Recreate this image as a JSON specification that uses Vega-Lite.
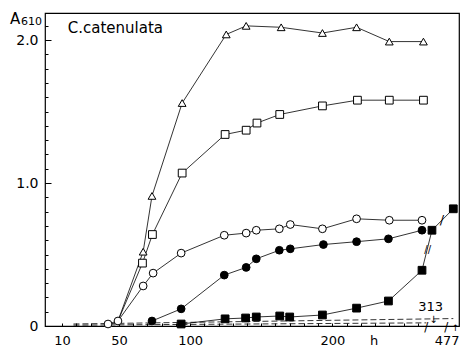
{
  "$schema": "https://vega.github.io/schema/vega-lite/v6.json",
  "width": 414,
  "height": 313,
  "autosize": {"type": "none"},
  "padding": {"left": 45, "top": 13, "right": 4, "bottom": 22},
  "config": {
    "view": {"stroke": "black", "strokeWidth": 1.2},
    "font": "DejaVu Sans",
    "axis": {"domain": false, "grid": false, "labelColor": "black", "tickColor": "black", "titleColor": "black", "labelFont": "DejaVu Sans", "titleFont": "DejaVu Sans"}
  },
  "datasets": {
    "series": [
      {"series": "tri", "h": 49.3, "a": 0.035, "m": 0},
      {"series": "tri", "h": 67, "a": 0.52, "m": 1},
      {"series": "tri", "h": 73.2, "a": 0.91, "m": 1},
      {"series": "tri", "h": 94.4, "a": 1.56, "m": 1},
      {"series": "tri", "h": 125.4, "a": 2.04, "m": 1},
      {"series": "tri", "h": 139.4, "a": 2.1, "m": 1},
      {"series": "tri", "h": 164, "a": 2.09, "m": 1},
      {"series": "tri", "h": 193, "a": 2.05, "m": 1},
      {"series": "tri", "h": 217, "a": 2.09, "m": 1},
      {"series": "tri", "h": 240, "a": 1.99, "m": 1},
      {"series": "tri", "h": 264, "a": 1.99, "m": 1},
      {"series": "sq", "h": 49.3, "a": 0.035, "m": 0},
      {"series": "sq", "h": 66.5, "a": 0.44, "m": 1},
      {"series": "sq", "h": 73.5, "a": 0.64, "m": 1},
      {"series": "sq", "h": 94.4, "a": 1.07, "m": 1},
      {"series": "sq", "h": 124.6, "a": 1.34, "m": 1},
      {"series": "sq", "h": 139.4, "a": 1.37, "m": 1},
      {"series": "sq", "h": 147, "a": 1.42, "m": 1},
      {"series": "sq", "h": 163, "a": 1.48, "m": 1},
      {"series": "sq", "h": 193, "a": 1.54, "m": 1},
      {"series": "sq", "h": 217.6, "a": 1.58, "m": 1},
      {"series": "sq", "h": 240, "a": 1.58, "m": 1},
      {"series": "sq", "h": 264, "a": 1.58, "m": 1},
      {"series": "oc", "h": 42.3, "a": 0.014, "m": 1},
      {"series": "oc", "h": 49.3, "a": 0.035, "m": 1},
      {"series": "oc", "h": 67, "a": 0.28, "m": 1},
      {"series": "oc", "h": 74, "a": 0.37, "m": 1},
      {"series": "oc", "h": 93.7, "a": 0.51, "m": 1},
      {"series": "oc", "h": 124, "a": 0.635, "m": 1},
      {"series": "oc", "h": 139.4, "a": 0.65, "m": 1},
      {"series": "oc", "h": 146.5, "a": 0.67, "m": 1},
      {"series": "oc", "h": 162.7, "a": 0.68, "m": 1},
      {"series": "oc", "h": 170.4, "a": 0.71, "m": 1},
      {"series": "oc", "h": 193, "a": 0.68, "m": 1},
      {"series": "oc", "h": 217, "a": 0.75, "m": 1},
      {"series": "oc", "h": 240, "a": 0.74, "m": 1},
      {"series": "oc", "h": 263, "a": 0.74, "m": 1},
      {"series": "fc", "h": 73.2, "a": 0.035, "m": 1},
      {"series": "fc", "h": 93.7, "a": 0.12, "m": 1},
      {"series": "fc", "h": 124, "a": 0.356, "m": 1},
      {"series": "fc", "h": 139.4, "a": 0.41, "m": 1},
      {"series": "fc", "h": 146.5, "a": 0.47, "m": 1},
      {"series": "fc", "h": 162.7, "a": 0.53, "m": 1},
      {"series": "fc", "h": 170.4, "a": 0.54, "m": 1},
      {"series": "fc", "h": 193.7, "a": 0.57, "m": 1},
      {"series": "fc", "h": 217, "a": 0.59, "m": 1},
      {"series": "fc", "h": 239.4, "a": 0.61, "m": 1},
      {"series": "fc", "h": 263, "a": 0.67, "m": 1},
      {"series": "fs", "h": 93.7, "a": 0.014, "m": 1},
      {"series": "fs", "h": 124.6, "a": 0.05, "m": 1},
      {"series": "fs", "h": 139, "a": 0.056, "m": 1},
      {"series": "fs", "h": 146.5, "a": 0.063, "m": 1},
      {"series": "fs", "h": 163, "a": 0.07, "m": 1},
      {"series": "fs", "h": 170, "a": 0.063, "m": 1},
      {"series": "fs", "h": 193, "a": 0.077, "m": 1},
      {"series": "fs", "h": 217, "a": 0.125, "m": 1},
      {"series": "fs", "h": 239.4, "a": 0.175, "m": 1},
      {"series": "fs", "h": 263, "a": 0.39, "m": 1},
      {"series": "fs", "h": 270, "a": 0.67, "m": 1},
      {"series": "fs", "h": 285, "a": 0.82, "m": 1}
    ],
    "dash": [
      {"line": "a", "h": 18, "a": 0.014},
      {"line": "a", "h": 285, "a": 0.052},
      {"line": "b", "h": 18, "a": 0.006},
      {"line": "b", "h": 266, "a": 0.022}
    ],
    "title": [
      {"h": 14, "a": 2.085, "text": "C.catenulata"}
    ],
    "notes": [
      {"h": -23, "a": 2.145, "text": "A", "size": 15},
      {"h": -11.5, "a": 2.125, "text": "610", "size": 11},
      {"h": 269, "a": 0.13, "text": "313", "size": 13},
      {"h": 271, "a": 0.045, "text": "↓", "size": 10},
      {"h": 266, "a": -0.005, "text": "/", "size": 12},
      {"h": 280, "a": -0.005, "text": "/", "size": 12},
      {"h": 286.5, "a": -0.012, "text": "↑", "size": 9},
      {"h": 267, "a": 0.53, "text": "//", "size": 10},
      {"h": 277, "a": 0.74, "text": "/", "size": 13}
    ]
  },
  "resolve": {"axis": {"x": "independent", "y": "independent"}},
  "layer": [
    {
      "data": {"name": "dash"},
      "mark": {"type": "line", "color": "black", "strokeWidth": 0.8, "strokeDash": [6, 3]},
      "encoding": {
        "x": {"field": "h", "type": "quantitative", "scale": {"domain": [-2, 289], "nice": false, "zero": false}, "axis": null},
        "y": {"field": "a", "type": "quantitative", "scale": {"domain": [0, 2.19], "nice": false}, "axis": null},
        "detail": {"field": "line"}
      }
    },
    {
      "data": {"name": "series"},
      "mark": {"type": "line", "color": "black", "strokeWidth": 0.8},
      "encoding": {
        "x": {"field": "h", "type": "quantitative", "scale": {"domain": [-2, 289], "nice": false, "zero": false},
          "axis": {"orient": "bottom", "values": [10, 50, 100, 200, 229, 289], "labelExpr": "datum.value == 229 ? 'h' : datum.value == 289 ? '477' : datum.label", "ticks": false, "labelPadding": 8, "labelFontSize": 13, "labelFlush": 3, "labelOverlap": false, "title": null}},
        "y": {"field": "a", "type": "quantitative", "scale": {"domain": [0, 2.19], "nice": false},
          "axis": {"orient": "left", "values": [0, 1, 2], "labelExpr": "datum.value == 0 ? '0' : format(datum.value, '.1f')", "ticks": false, "labelPadding": 7, "labelFontSize": 14, "labelBaseline": "middle", "title": null}},
        "detail": {"field": "series"},
        "order": {"field": "h", "type": "quantitative"}
      }
    },
    {
      "data": {"name": "series"},
      "transform": [{"filter": "datum.m == 1"}],
      "mark": {"type": "point", "filled": true, "stroke": "black", "strokeWidth": 1, "opacity": 1, "size": 60},
      "encoding": {
        "x": {"field": "h", "type": "quantitative", "scale": {"domain": [-2, 289], "nice": false, "zero": false},
          "axis": {"orient": "bottom", "values": [10,20,30,40,50,60,70,80,90,100,110,120,130,140,150,160,170,180,190,200,210,220,230,240,250,260], "labels": false, "tickSize": -3, "title": null}},
        "y": {"field": "a", "type": "quantitative", "scale": {"domain": [0, 2.19], "nice": false},
          "axis": {"orient": "left", "values": [0,0.1,0.2,0.3,0.4,0.5,0.6,0.7,0.8,0.9,1,1.1,1.2,1.3,1.4,1.5,1.6,1.7,1.8,1.9,2,2.1], "labels": false, "tickSize": -3, "title": null}},
        "shape": {"field": "series", "scale": {"domain": ["tri", "sq", "oc", "fc", "fs"], "range": ["triangle-up", "square", "circle", "circle", "square"]}, "legend": null},
        "fill": {"field": "series", "scale": {"domain": ["tri", "sq", "oc", "fc", "fs"], "range": ["white", "white", "white", "black", "black"]}, "legend": null}
      }
    },
    {
      "data": {"name": "title"},
      "mark": {"type": "text", "color": "black", "baseline": "middle", "align": "left", "fontSize": 15},
      "encoding": {
        "x": {"field": "h", "type": "quantitative", "scale": {"domain": [-2, 289], "nice": false, "zero": false}, "axis": null},
        "y": {"field": "a", "type": "quantitative", "scale": {"domain": [0, 2.19], "nice": false}, "axis": null},
        "text": {"field": "text"}
      }
    },
    {
      "data": {"name": "notes"},
      "mark": {"type": "text", "color": "black", "baseline": "middle", "align": "center", "clip": false},
      "encoding": {
        "x": {"field": "h", "type": "quantitative", "scale": {"domain": [-2, 289], "nice": false, "zero": false}, "axis": null},
        "y": {"field": "a", "type": "quantitative", "scale": {"domain": [0, 2.19], "nice": false},
          "axis": {"orient": "left", "values": [0, 1, 2], "labels": false, "tickSize": -6, "title": null}},
        "text": {"field": "text"},
        "size": {"field": "size", "type": "quantitative", "scale": null}
      }
    }
  ]
}
